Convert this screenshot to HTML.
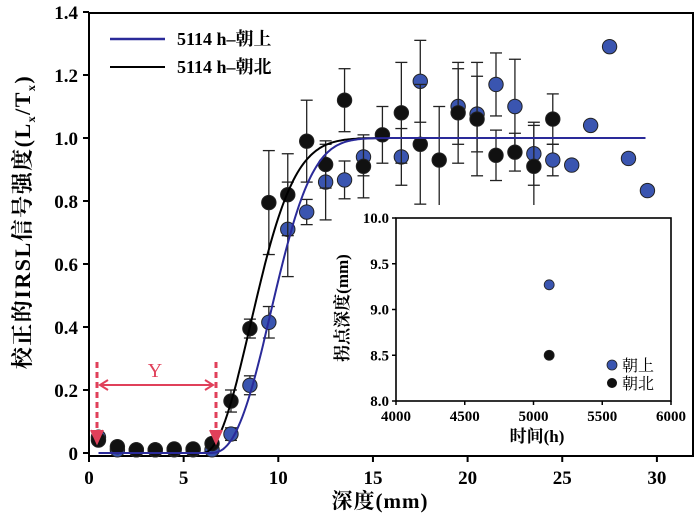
<!DOCTYPE html>
<html><head><meta charset="utf-8">
<style>
body{margin:0;background:#fff;}
svg{display:block;font-family:"Liberation Serif","Noto Serif CJK SC",serif;}
</style></head>
<body>
<svg id="chart" width="700" height="520" viewBox="0 0 700 520">
</svg>
<script>
// main chart data
const depthsUp = [0.5,1.5,2.5,3.5,4.5,5.5,6.5,7.5,8.5,9.5,10.5,11.5,12.5,13.5,14.5,16.5,17.5,19.5,20.5,21.5,22.5,23.5,24.5,25.5,26.5,27.5,28.5,29.5];
const valuesUp = [0.05,0.01,0.01,0.01,0.01,0.01,0.01,0.06,0.215,0.415,0.71,0.765,0.86,0.867,0.94,0.94,1.18,1.10,1.076,1.17,1.10,0.95,0.93,0.914,1.04,1.29,0.935,0.833];
const errorsUp = [0,0,0,0,0,0,0,0.02,0.03,0.05,0.15,0.04,0.12,0.06,0.06,0.09,0.13,0.12,0.12,0.1,0.15,0.1,0.05,0,0,0,0,0];
const depthsN = [0.5,1.5,2.5,3.5,4.5,5.5,6.5,7.5,8.5,9.5,10.5,11.5,12.5,13.5,14.5,15.5,16.5,17.5,18.5,19.5,20.5,21.5,22.5,23.5,24.5];
const valuesN = [0.041,0.02,0.01,0.01,0.013,0.013,0.03,0.165,0.395,0.795,0.82,0.99,0.916,1.12,0.91,1.01,1.08,0.98,0.93,1.08,1.06,0.945,0.955,0.91,1.06];
const errorsN = [0,0,0,0,0,0,0,0.035,0.03,0.165,0.13,0.13,0.075,0.1,0.1,0.09,0.16,0.19,0.17,0.16,0.18,0.08,0.06,0.13,0.08];
const xTicks = [0,5,10,15,20,25,30];
const yTicks = [0,0.2,0.4,0.6,0.8,1.0,1.2,1.4];
const yTickLabels = ["0","0.2","0.4","0.6","0.8","1.0","1.2","1.4"];
// inset data
const insetTimes = [5114,5114];
const insetDepths = [9.27,8.5];
const insetXTicks = [4000,4500,5000,5500,6000];
const insetYTicks = [8.0,8.5,9.0,9.5,10.0];

const NS="http://www.w3.org/2000/svg";
const svg=document.getElementById('chart');
function mk(t,a,p){const e=document.createElementNS(NS,t);for(const k in a)e.setAttribute(k,a[k]);(p||svg).appendChild(e);return e;}
const xs=v=>89+v*18.93;
const ys=v=>453-v*315;
const ixs=v=>396+(v-4000)*275/2000;
const iys=v=>401-(v-8)*183/2;
const BLUE="#3a55b0",BLUEL="#2a2a99";

let f=mk('rect',{x:89,y:13,width:604,height:443,fill:'none',stroke:'#000','stroke-width':2});

xTicks.forEach(t=>{
 let l=mk('line',{x1:xs(t),x2:xs(t),y1:456,y2:462,stroke:'#000','stroke-width':2});
 
 let tx=mk('text',{x:xs(t),y:484,'text-anchor':'middle','font-size':19,'font-weight':'bold'});tx.textContent=t;
 
});
yTicks.forEach((t,i)=>{
 let l=mk('line',{x1:83,x2:89,y1:ys(t),y2:ys(t),stroke:'#000','stroke-width':2});
 
 let tx=mk('text',{x:78,y:ys(t)+7,'text-anchor':'end','font-size':19,'font-weight':'bold'});tx.textContent=yTickLabels[i];
 
});
let xt=mk('text',{x:380,y:508,'text-anchor':'middle','font-size':21,'font-weight':'bold','letter-spacing':1});xt.textContent='深度(mm)';

let yt=mk('text',{x:0,y:0,'text-anchor':'middle','font-size':22,'font-weight':'bold','letter-spacing':1.5,transform:'translate(30,222) rotate(-90)'});
yt.innerHTML='校正的IRSL信号强度(L<tspan font-size="12" dy="5">x</tspan><tspan dy="-5">/T</tspan><tspan font-size="12" dy="5">x</tspan><tspan dy="-5">)</tspan>';


function curve(x0,s,k,col,w,name){
 let d='';for(let x=0.5;x<=29.5;x+=0.1){const dd=Math.max(0,x-x0);const v=1-Math.exp(-Math.pow(dd/s,k));d+=(d?'L':'M')+xs(x).toFixed(1)+','+ys(v).toFixed(1);}
 let p=mk('path',{d:d,fill:'none',stroke:col,'stroke-width':w});
 
}
function series(dx,dv,de,fill,name){
 dx.forEach((x,i)=>{
  if(de[i]>0){
   const g=mk('g',{stroke:'#222','stroke-width':1.3});
   
   mk('line',{x1:xs(x),x2:xs(x),y1:ys(dv[i]-de[i]),y2:ys(dv[i]+de[i])},g);
   mk('line',{x1:xs(x)-6,x2:xs(x)+6,y1:ys(dv[i]-de[i]),y2:ys(dv[i]-de[i])},g);
   mk('line',{x1:xs(x)-6,x2:xs(x)+6,y1:ys(dv[i]+de[i]),y2:ys(dv[i]+de[i])},g);
  }
 });
 dx.forEach((x,i)=>{
  let c=mk('circle',{cx:xs(x),cy:ys(dv[i]),r:7.2,fill:fill,stroke:'#222','stroke-width':1});
  
 });
}
series(depthsUp,valuesUp,errorsUp,BLUE,'up');
series(depthsN,valuesN,errorsN,'#111','north');
curve(6.0,3.44,2.1,'#000',2,'north-fit-curve');
curve(6.4,3.95,2.5,BLUEL,2,'up-fit-curve');

let lg=mk('g',{});
mk('line',{x1:110,x2:165,y1:39,y2:39,stroke:BLUEL,'stroke-width':2.5},lg);
let l1=mk('text',{x:177,y:45,'font-size':18,'font-weight':'bold'},lg);l1.textContent='5114 h–朝上';
mk('line',{x1:110,x2:165,y1:67,y2:67,stroke:'#000','stroke-width':2},lg);
let l2=mk('text',{x:177,y:73,'font-size':18,'font-weight':'bold'},lg);l2.textContent='5114 h–朝北';

let ya=mk('g',{stroke:'#e0405a','stroke-width':2,fill:'none'});
mk('line',{x1:97,x2:97,y1:362,y2:436,'stroke-dasharray':'6,4','stroke-width':3},ya);
mk('line',{x1:216,x2:216,y1:362,y2:436,'stroke-dasharray':'6,4','stroke-width':3},ya);
mk('path',{d:'M91,430 L97,443 L103,430',fill:'#e0405a'},ya);
mk('path',{d:'M210,430 L216,443 L222,430',fill:'#e0405a'},ya);
mk('line',{x1:100,x2:213,y1:385,y2:385},ya);
mk('path',{d:'M108,380 L100,385 L108,390'},ya);
mk('path',{d:'M205,380 L213,385 L205,390'},ya);
let yl=mk('text',{x:155,y:377,'text-anchor':'middle','font-size':20,fill:'#e0405a'});yl.textContent='Y';


let ib=mk('rect',{x:340,y:205,width:345,height:240,fill:'#fff'});
let ifr=mk('rect',{x:396,y:218,width:275,height:183,fill:'none',stroke:'#000','stroke-width':1.6});

insetXTicks.forEach(t=>{
 let l=mk('line',{x1:ixs(t),x2:ixs(t),y1:401,y2:405,stroke:'#000','stroke-width':1.5});
 
 let tx=mk('text',{x:ixs(t),y:421,'text-anchor':'middle','font-size':15,'font-weight':'bold'});tx.textContent=t;
 
});
insetYTicks.forEach(t=>{
 let l=mk('line',{x1:392,x2:396,y1:iys(t),y2:iys(t),stroke:'#000','stroke-width':1.5});
 
 let tx=mk('text',{x:389,y:iys(t)+5,'text-anchor':'end','font-size':15,'font-weight':'bold'});tx.textContent=t.toFixed(1);
 
});
let ixt=mk('text',{x:537,y:442,'text-anchor':'middle','font-size':17,'font-weight':'bold'});ixt.textContent='时间(h)';

let iyt=mk('text',{x:0,y:0,'text-anchor':'middle','font-size':17,'font-weight':'bold',transform:'translate(348,308) rotate(-90)'});iyt.textContent='拐点深度(mm)';

const insetCols=[BLUE,'#111'];
insetTimes.forEach((t,i)=>{
 let c=mk('circle',{cx:ixs(t),cy:iys(insetDepths[i]),r:5,fill:insetCols[i],stroke:'#222','stroke-width':0.8});
 
});
let il=mk('g',{});
mk('circle',{cx:612,cy:365,r:5,fill:BLUE,stroke:'#222','stroke-width':0.8},il);
let il1=mk('text',{x:622,y:371,'font-size':16},il);il1.textContent='朝上';
mk('circle',{cx:612,cy:383,r:5,fill:'#111'},il);
let il2=mk('text',{x:622,y:389,'font-size':16},il);il2.textContent='朝北';
</script>
</body></html>
